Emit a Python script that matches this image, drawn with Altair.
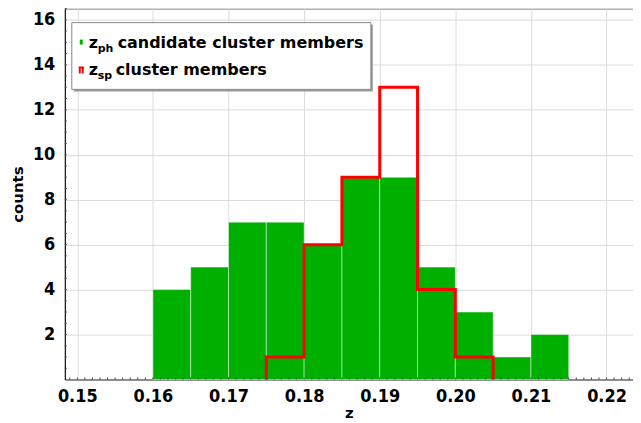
import altair as alt
import pandas as pd

# ---- data ----
ph_edges = [0.160, 0.165, 0.170, 0.175, 0.180, 0.185, 0.190, 0.195, 0.200, 0.205, 0.210, 0.215]
ph_counts = [4, 5, 7, 7, 6, 9, 9, 5, 3, 1, 2]
sp_edges = [0.175, 0.180, 0.185, 0.190, 0.195, 0.200, 0.205]
sp_counts = [1, 6, 9, 13, 4, 1]
x_tick_values = [0.15, 0.16, 0.17, 0.18, 0.19, 0.20, 0.21, 0.22]
y_tick_values = [2, 4, 6, 8, 10, 12, 14, 16]

X_DOMAIN = [0.14835, 0.2235]
Y_DOMAIN = [0, 16.5]
W, H = 570, 372

ph_df = pd.DataFrame({"x0": ph_edges[:-1], "x1": ph_edges[1:], "count": ph_counts})

# step outline vertices for the spectroscopic histogram
sx, sy = [sp_edges[0]], [0]
for i, c in enumerate(sp_counts):
    sx += [sp_edges[i], sp_edges[i + 1]]
    sy += [c, c]
sx.append(sp_edges[-1]); sy.append(0)
sp_df = pd.DataFrame({"x": sx, "y": sy, "o": list(range(len(sx)))})

minor_x = pd.DataFrame({"x": [round(0.149 + 0.001 * i, 3) for i in range(75)]})
minor_y = pd.DataFrame({"y": [0.5 * i for i in range(1, 34)]})

xs = alt.Scale(domain=X_DOMAIN, nice=False, zero=False)
ys = alt.Scale(domain=Y_DOMAIN, nice=False)

label_font = "DejaVu Sans Condensed"
title_font = "DejaVu Sans"

bars = alt.Chart(ph_df).mark_rect(
    fill="#00b000", stroke="#ffffff", strokeOpacity=0.45, strokeWidth=1
).encode(
    x=alt.X("x0:Q", scale=xs, axis=alt.Axis(
        values=x_tick_values, format=".2f", title="z", grid=True, gridColor="#dcdcdc",
        ticks=False, labelFont=label_font, labelFontWeight="bold", labelFontSize=18,
        labelColor="black", labelPadding=8, titleFont=title_font, titleFontSize=15,
        titleFontWeight="bold", titleColor="black", titlePadding=0,
        domainColor="#555555", labelFlush=False)),
    x2="x1:Q",
    y=alt.Y("count:Q", scale=ys, axis=alt.Axis(
        values=y_tick_values, format="d", title="counts", grid=True, gridColor="#dcdcdc",
        ticks=False, labelFont=label_font, labelFontWeight="bold", labelFontSize=18,
        labelColor="black", labelPadding=10, titleFont=title_font, titleFontSize=15,
        titleFontWeight="bold", titleColor="black", titlePadding=7,
        domainColor="#000000")),
    y2=alt.datum(0),
)

step = alt.Chart(sp_df).mark_line(color="#ff0000", strokeWidth=3, strokeJoin="miter").encode(
    x=alt.X("x:Q", scale=xs), y=alt.Y("y:Q", scale=ys), order="o:Q"
)

mx = alt.Chart(minor_x).mark_rule(color="#444444", strokeWidth=1).encode(
    x=alt.X("x:Q", scale=xs), y=alt.value(H), y2=alt.value(H - 2)
)
my = alt.Chart(minor_y).mark_rule(color="#444444", strokeWidth=1).encode(
    y=alt.Y("y:Q", scale=ys), x=alt.value(0), x2=alt.value(2)
)

# ---- legend (decoration) ----
legend_shadow = alt.Chart().mark_rect(fill="#9a9a9a").encode(
    x=alt.value(9), x2=alt.value(309), y=alt.value(16), y2=alt.value(83))
legend_box = alt.Chart().mark_rect(fill="white", stroke="#8a8a8a", strokeWidth=1).encode(
    x=alt.value(7), x2=alt.value(307), y=alt.value(14), y2=alt.value(81))
green_sym = alt.Chart().mark_rect(fill="#00b000").encode(
    x=alt.value(15), x2=alt.value(18), y=alt.value(31), y2=alt.value(36))
red_l = alt.Chart().mark_rule(color="#ff0000", strokeWidth=2).encode(
    x=alt.value(15), y=alt.value(58.5), y2=alt.value(65))
red_r = alt.Chart().mark_rule(color="#ff0000", strokeWidth=2).encode(
    x=alt.value(18), y=alt.value(58.5), y2=alt.value(65))
red_t = alt.Chart().mark_rule(color="#ff0000", strokeWidth=2).encode(
    x=alt.value(14), x2=alt.value(19), y=alt.value(59))


def txt(s, x, y, size):
    return alt.Chart().mark_text(
        text=s, font=title_font, fontWeight="bold", fontSize=size, align="left",
        baseline="alphabetic", color="black"
    ).encode(x=alt.value(x), y=alt.value(y))


legend_texts = [
    txt("z", 24, 39, 16), txt("ph", 33, 43, 11), txt("candidate cluster members", 53, 39, 16),
    txt("z", 24, 67, 16), txt("sp", 33, 71, 11), txt("cluster members", 51, 67, 16),
]

chart = alt.layer(
    bars, step, mx, my, legend_shadow, legend_box, green_sym, red_l, red_r, red_t, *legend_texts
).properties(
    width=W, height=H,
    autosize=alt.AutoSizeParams(type="none"),
    padding={"left": 57, "top": 0, "right": 0, "bottom": 43},
).configure_view(stroke="#888888", strokeWidth=1)

chart.save("out.html", embed_options={"renderer": "svg", "actions": False})
